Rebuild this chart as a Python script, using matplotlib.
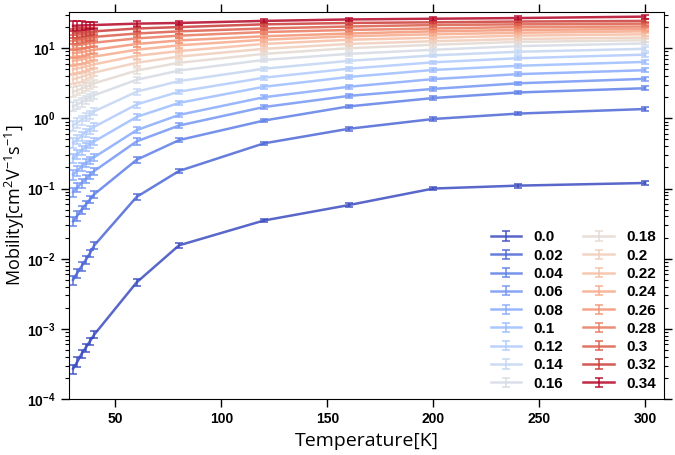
import numpy as np
import matplotlib
matplotlib.use('Agg')
import matplotlib.pyplot as plt
from matplotlib.ticker import FuncFormatter, LogLocator, NullFormatter
from matplotlib.legend_handler import HandlerErrorbar
from matplotlib.container import ErrorbarContainer

# =============================================================================
# Data
# =============================================================================

temps = [30, 32, 34, 36, 38, 40, 60, 80, 120, 160, 200, 240, 300]
labels = ['0.0', '0.02', '0.04', '0.06', '0.08', '0.1', '0.12', '0.14', '0.16',
          '0.18', '0.2', '0.22', '0.24', '0.26', '0.28', '0.3', '0.32', '0.34']

mob_000 = [2.7e-4, 3.4e-4, 4.4e-4, 5.4e-4, 6.7e-4, 8.3e-4, 4.6e-3, 1.55e-2, 3.5e-2, 5.8e-2, 0.10, 0.11, 0.12]
mob_002 = [5.0e-3, 6.3e-3, 7.8e-3, 9.6e-3, 1.2e-2, 1.55e-2, 0.076, 0.178, 0.44, 0.71, 0.98, 1.17, 1.36]
mob_004 = [0.034, 0.041, 0.050, 0.059, 0.070, 0.083, 0.257, 0.49, 0.93, 1.48, 1.95, 2.34, 2.69]
mob_006 = [0.089, 0.104, 0.120, 0.137, 0.156, 0.178, 0.47, 0.79, 1.45, 2.09, 2.63, 3.16, 3.66]
mob_008 = [0.158, 0.180, 0.205, 0.230, 0.255, 0.28, 0.68, 1.12, 2.0, 2.82, 3.63, 4.27, 4.86]
mob_010 = [0.27, 0.31, 0.35, 0.39, 0.43, 0.47, 1.05, 1.66, 2.82, 3.89, 4.9, 5.62, 6.38]
mob_012 = [0.45, 0.50, 0.56, 0.63, 0.69, 0.76, 1.58, 2.4, 3.8, 5.1, 6.3, 7.2, 8.1]
mob_014 = [0.79, 0.87, 0.95, 1.04, 1.13, 1.26, 2.4, 3.4, 5.1, 6.6, 7.9, 8.9, 9.8]
mob_016 = [1.48, 1.58, 1.70, 1.85, 2.0, 2.14, 3.55, 4.8, 6.8, 8.3, 9.5, 10.7, 11.7]
mob_018 = [2.4, 2.5, 2.65, 2.8, 2.98, 3.16, 4.8, 6.2, 8.3, 10.0, 11.2, 12.3, 13.0]
mob_020 = [3.6, 3.75, 3.9, 4.1, 4.3, 4.5, 6.2, 7.6, 9.8, 11.5, 12.6, 13.5, 14.2]
mob_022 = [5.0, 5.15, 5.3, 5.5, 5.7, 5.9, 7.8, 9.1, 11.5, 13.2, 14.1, 15.1, 15.8]
mob_024 = [6.6, 6.75, 6.9, 7.1, 7.4, 7.6, 9.5, 11.0, 13.2, 14.8, 15.8, 16.6, 17.4]
mob_026 = [8.5, 8.65, 8.8, 9.0, 9.3, 9.5, 11.5, 12.9, 14.8, 16.2, 17.4, 18.2, 18.8]
mob_028 = [11.0, 11.1, 11.3, 11.5, 11.8, 12.0, 13.8, 15.1, 17.0, 18.2, 19.1, 20.0, 20.4]
mob_030 = [13.5, 13.6, 13.8, 14.0, 14.2, 14.5, 16.2, 17.4, 19.1, 20.4, 21.4, 21.9, 22.4]
mob_032 = [16.6, 16.7, 16.9, 17.0, 17.2, 17.4, 19.1, 20.0, 21.9, 22.9, 23.4, 24.0, 24.5]
mob_034 = [20.9, 21.0, 21.1, 21.2, 21.3, 21.4, 22.4, 22.9, 24.5, 25.7, 26.3, 26.9, 28.2]

# relative size of the error bars at each temperature
rel_err = [0.15, 0.15, 0.14, 0.13, 0.12, 0.12, 0.10, 0.07, 0.06, 0.06, 0.06, 0.06, 0.06]

series = [mob_000, mob_002, mob_004, mob_006, mob_008, mob_010, mob_012, mob_014, mob_016,
          mob_018, mob_020, mob_022, mob_024, mob_026, mob_028, mob_030, mob_032, mob_034]

# =============================================================================
# Plot
# =============================================================================

plt.rcParams['mathtext.fontset'] = 'custom'
plt.rcParams['mathtext.rm'] = 'Open Sans'
plt.rcParams['mathtext.bf'] = 'Liberation Sans:bold'

fig = plt.figure(figsize=(6.75, 4.55), dpi=100)
ax = fig.add_axes([0.102, 0.123, 0.882, 0.851])

colors = plt.cm.coolwarm(np.linspace(0, 1, len(series)))
rel = np.array(rel_err)

for vals, lab, c in zip(series, labels, colors):
    v = np.array(vals)
    ax.errorbar(temps, v, yerr=v * rel, color=c, alpha=0.85, lw=1.8, elinewidth=1.2,
                capsize=3, capthick=1.2, label=lab)

ax.set_yscale('log')
ax.set_xlim(28, 309)
ax.set_ylim(1e-4, 33)
ax.set_xticks([50, 100, 150, 200, 250, 300])

ax.yaxis.set_major_formatter(FuncFormatter(lambda y, p: r'$\mathbf{10^{%d}}$' % round(np.log10(y))))
ax.yaxis.set_minor_locator(LogLocator(base=10, subs=np.arange(2, 10)))
ax.yaxis.set_minor_formatter(NullFormatter())

ax.tick_params(which='both', direction='out', top=True, right=True)
ax.tick_params(which='major', length=6, width=1)
ax.tick_params(which='minor', length=3, width=0.8)
for lbl in ax.get_xticklabels():
    lbl.set_fontweight('bold')
    lbl.set_fontfamily('Liberation Sans')
    lbl.set_fontsize(10)
ax.tick_params(axis='y', labelsize=10)

ax.set_xlabel('Temperature[K]', fontsize=14, family='Open Sans')
ax.set_ylabel(r'Mobility[cm$^2$V$^{-1}$s$^{-1}$]', fontsize=13, family='Open Sans')
ax.yaxis.set_label_coords(-0.07, 0.5)

leg = ax.legend(loc='lower right', ncol=2, frameon=False,
                prop={'weight': 'bold', 'family': 'Liberation Sans', 'size': 11},
                labelspacing=0.28, columnspacing=1.3, handlelength=2.0,
                borderaxespad=0.15,
                handler_map={ErrorbarContainer: HandlerErrorbar(yerr_size=0.3)})

fig.savefig('out.png', dpi=100)
